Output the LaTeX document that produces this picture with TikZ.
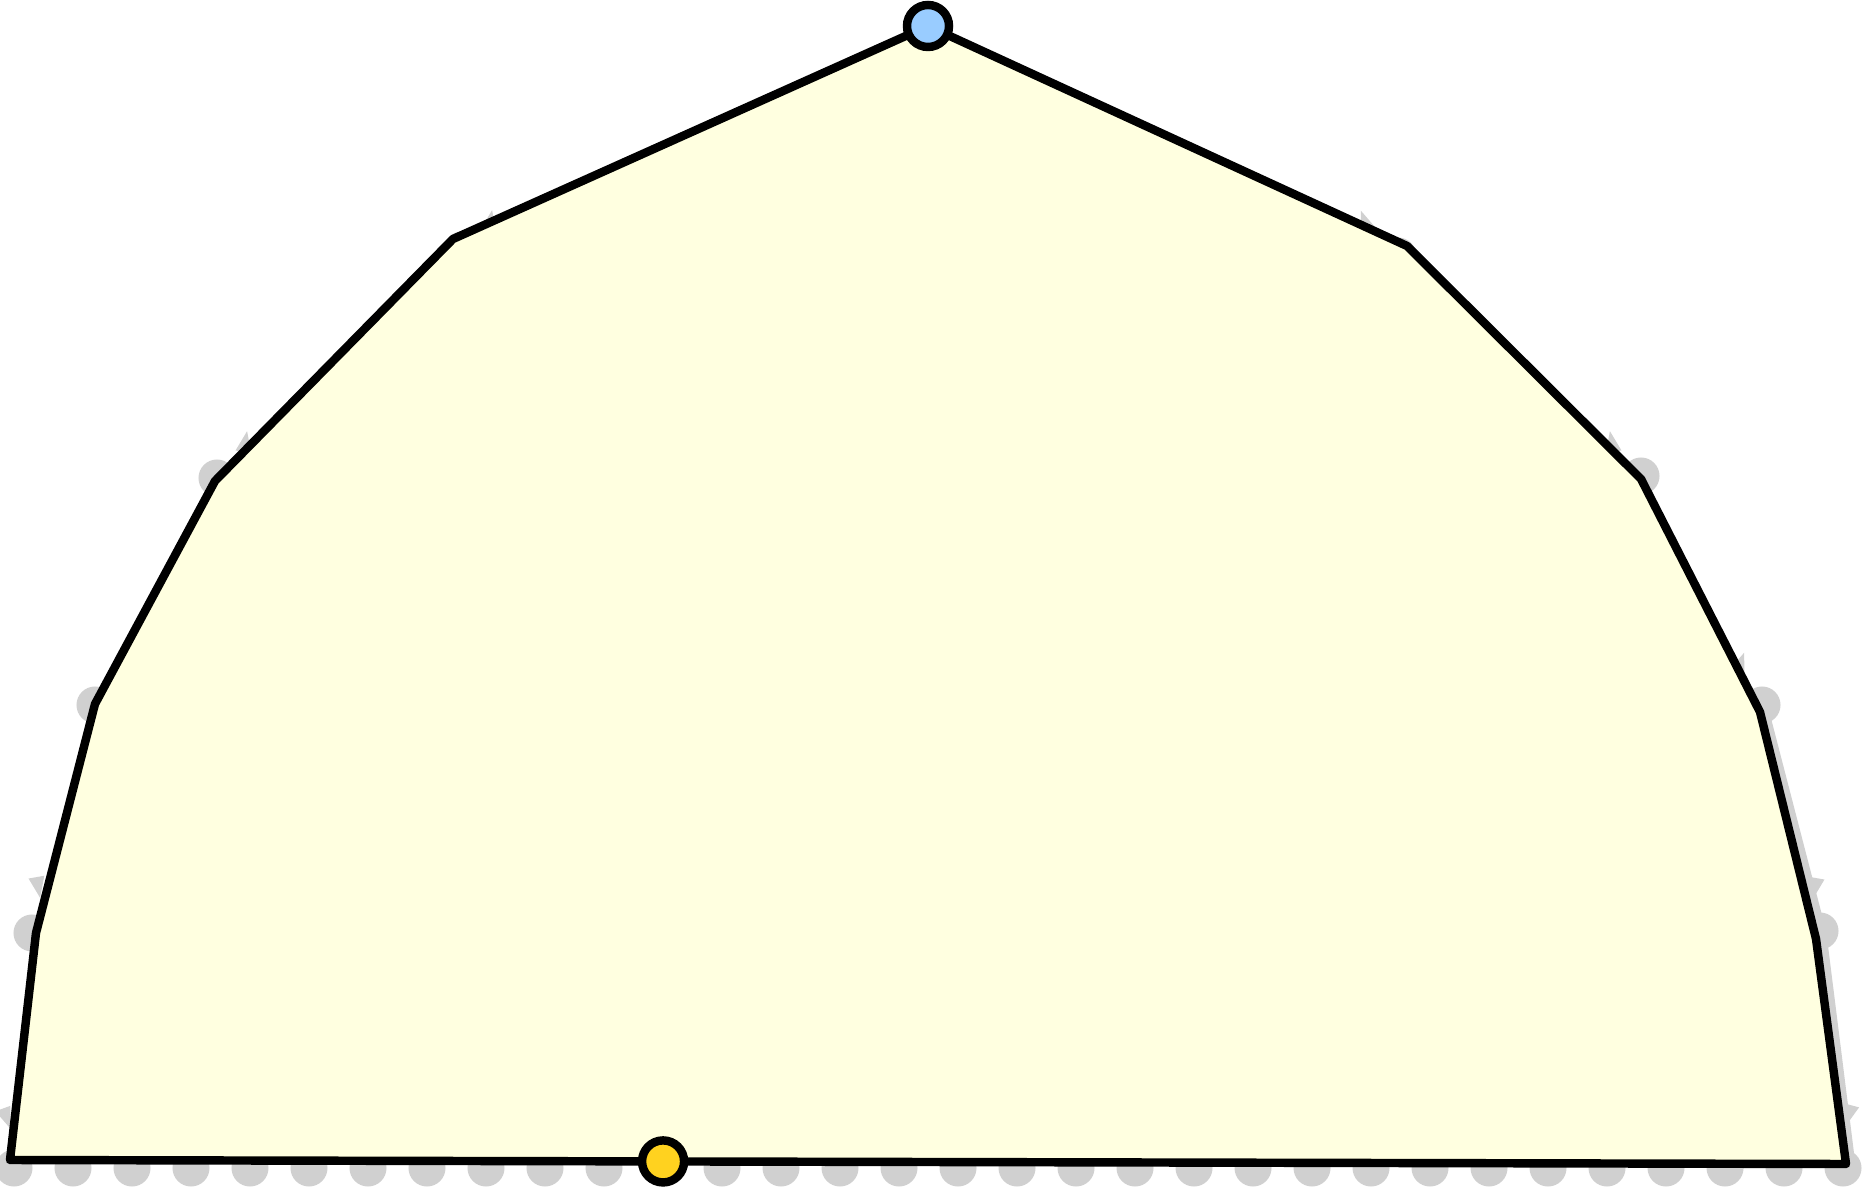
\documentclass[tikz,border=0pt]{standalone}
\usetikzlibrary{calc}
\definecolor{hullFill}{HTML}{FFFFE0}
\definecolor{shadowGray}{HTML}{D0D0D0}
\definecolor{apexBlue}{HTML}{99CCFF}
\definecolor{baseGold}{HTML}{FFD21F}

\begin{document}
\begin{tikzpicture}[
  x=0.01cm, y=-0.01cm,
  hull/.style={draw=black, line width=2.4pt, fill=hullFill, line join=round},
  gdot/.style={circle, fill=shadowGray, inner sep=0pt, minimum size=0.37cm},
  gtip/.style={fill=shadowGray},
  gline/.style={draw=shadowGray, line width=2.4pt},
  marker/.style={circle, draw=black, line width=2.4pt, inner sep=0pt, minimum size=0.42cm}
]
  \useasboundingbox (0,0) rectangle (1870,1192);
  % hull vertices
  \coordinate (p0) at (928,26);
  \coordinate (p1) at (453,239);
  \coordinate (p2) at (215,481);
  \coordinate (p3) at (95,704);
  \coordinate (p4) at (36,933);
  \coordinate (p5) at (10,1160);
  \coordinate (p6) at (1846,1164);
  \coordinate (p7) at (1816,939);
  \coordinate (p8) at (1760,712);
  \coordinate (p9) at (1641,479);
  \coordinate (p10) at (1407,246);

  % shadow layer
  \draw[gline] (1765,712) -- (1822,932) -- (1851,1163);
  \foreach \i in {0,...,31}
    \node[gdot] at ({14+59*\i},1168) {};
  \foreach \x/\y in {217/478, 1641/476, 95/705, 1762/705, 32/933, 1820/931, 462/250, 1398/256}
    \node[gdot] at (\x,\y) {};
  \foreach \x/\y/\a in {490/222/80, 1365/222/110, 245/443/80, 1612/443/100, 38/886/-80,
                        6/1117/-70, 1740/664/70, 1815/887/-100, 1849/1114/-105}
    \fill[gtip, shift={(\x,\y)}, rotate=\a] (12,0) -- (-9,8) -- (-9,-8) -- cycle;

  % hull
  \draw[hull] (p0) -- (p1) -- (p2) -- (p3) -- (p4) -- (p5) -- (p6) -- (p7) -- (p8) -- (p9) -- (p10) -- cycle;

  % markers
  \node[marker, fill=apexBlue] (apex) at (p0) {};
  \node[marker, fill=baseGold] (base) at ($(p5)!0.3557!(p6)$) {};
\end{tikzpicture}
\end{document}
